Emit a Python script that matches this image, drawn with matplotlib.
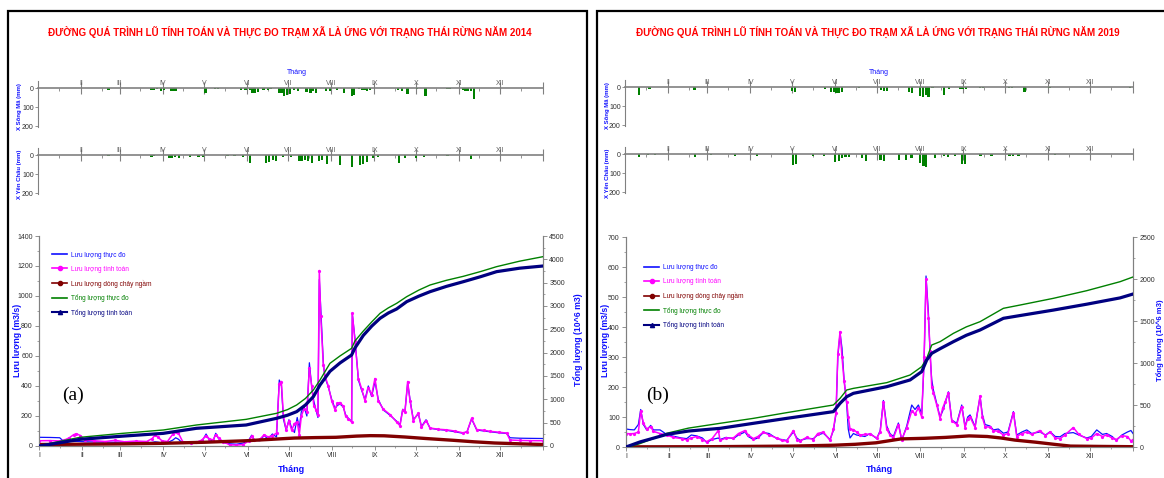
import matplotlib
matplotlib.use('Agg')
import matplotlib.pyplot as plt
from matplotlib.lines import Line2D
from matplotlib.patches import Rectangle

W, H = 1164, 478
FONT = ['Liberation Sans', 'DejaVu Sans']
plt.rcParams['font.family'] = FONT

BLUE = '#1010ff'
MAGENTA = '#ff00ff'
DARKRED = '#800000'
GREEN = '#008000'
NAVY = '#000080'
GRAY = '#808080'

months = [0, 31, 59, 90, 120, 151, 181, 212, 243, 273, 304, 334]
month_labels = ['I', 'II', 'III', 'IV', 'V', 'VI', 'VII', 'VIII', 'IX', 'X', 'XI', 'XII']

legend_labels = ['Lưu lượng thực đo', 'Lưu lượng tính toán', 'Lưu lượng dòng chảy ngầm',
                 'Tổng lượng thực đo', 'Tổng lượng tính toán']

# ---- 2014 rainfall (mm) ----
rain_songma_2014_day = [51, 82, 84, 86, 89, 91, 96, 98, 100, 121, 128, 130, 147, 150, 153, 155, 157, 159,
                        163, 166, 168, 174, 176, 178, 180, 182, 185, 188, 194, 197, 199, 201, 208, 211,
                        216, 221, 227, 228, 232, 234, 236, 238, 240, 260, 263, 267, 274, 280, 296, 298,
                        307, 309, 311, 313, 315]
rain_songma_2014_mm = [8, 8, 10, 6, 15, 12, 15, 14, 16, 26, 5, 4, 10, 8, 12, 25, 28, 22,
                       8, 10, 6, 28, 25, 40, 38, 30, 12, 15, 20, 25, 18, 25, 15, 15,
                       12, 25, 40, 38, 6, 8, 10, 15, 12, 10, 15, 30, 5, 40, 3, 3,
                       8, 15, 18, 15, 60]

rain_yenchau_2014_day = [51, 82, 84, 95, 97, 99, 102, 110, 116, 119, 137, 142, 148, 153, 165, 167, 170,
                         172, 177, 183, 189, 191, 193, 195, 198, 203, 205, 209, 218, 227, 233, 235, 238,
                         242, 246, 261, 265, 273, 279, 296, 313]
rain_yenchau_2014_mm = [3, 8, 6, 15, 18, 12, 15, 10, 10, 12, 5, 5, 10, 42, 40, 35, 25,
                        30, 10, 10, 30, 32, 28, 30, 40, 30, 28, 45, 55, 65, 50, 48, 35,
                        15, 10, 40, 15, 15, 10, 5, 20]

# ---- 2019 rainfall (mm) ----
rain_songma_2019_day = [10, 17.6, 50, 120, 122, 143.5, 148, 150, 152, 154, 156, 168, 184, 186, 188,
                        204, 206, 212, 214, 216, 218, 221, 229, 233, 241, 243, 245, 255, 257, 276, 278,
                        287, 305, 363]
rain_songma_2019_mm = [40, 8, 15, 22, 25, 8, 28, 25, 32, 30, 28, 3, 15, 22, 20,
                       28, 30, 45, 50, 40, 52, 5, 40, 8, 10, 8, 12, 5, 4, 5, 5,
                       25, 3, 5]

rain_yenchau_2019_day = [9.8, 16.3, 21.7, 50.3, 62, 79, 94.7, 120.8, 123, 135, 143, 151, 153.5, 156,
                         158.5, 161, 170.5, 173, 183.5, 186, 196.6, 201.8, 205.8, 212, 214.5, 216.5,
                         222.7, 229, 232, 237, 242.4, 244.5, 255.4, 263.3, 276.3, 279, 282.8, 309]
rain_yenchau_2019_mm = [15, 5, 3, 15, 5, 8, 8, 60, 50, 10, 8, 40, 35, 20,
                        18, 15, 20, 35, 30, 35, 30, 30, 20, 45, 65, 70,
                        20, 12, 15, 10, 55, 50, 8, 8, 10, 8, 12, 5]

# ---- 2014 discharge (m3/s) ----
q_day_2014 = [0, 8, 15, 18, 22, 25, 27, 30, 33, 40, 48, 55, 62, 70, 78, 82, 84, 86, 89, 93, 97, 99,
              101, 104, 110, 114, 118, 121, 123, 126, 128, 130, 133, 138, 143, 148, 152, 154, 156,
              160, 163, 166, 169, 172, 174, 175.5, 177, 179, 181, 183, 185, 187, 188.5, 190, 192,
              194, 195.8, 197.5, 199, 200.6, 202, 203, 204, 205.9, 207, 209.5, 212, 214.4, 216,
              218, 220.4, 222, 224, 226.4, 226.9, 228.8, 231.3, 233.7, 236.1, 238.5, 240.9, 243.3,
              245.7, 249.4, 254.2, 259, 261.4, 263.4, 265, 267, 268.7, 271.1, 274.7, 277, 280.3,
              283.2, 289, 295, 301, 307, 310, 313.3, 317, 322, 326.6, 333, 338.7, 341.1, 348,
              355.6, 365]
q_obs_2014 = [58, 57, 55, 30, 32, 30, 31, 30, 28, 27, 26, 25, 27, 24, 22, 24, 28, 26, 20, 22, 40, 55,
              45, 18, 20, 22, 30, 80, 45, 30, 85, 50, 25, 15, 12, 20, 40, 72, 40,
              35, 70, 45, 80, 60, 440, 410, 180, 105, 175, 120, 90, 190, 120, 230, 260,
              200, 555, 395, 300, 240, 190, 1110, 930, 560, 460, 395, 310, 250, 270,
              280, 260, 210, 185, 165, 880, 720, 440, 370, 310, 400, 330, 430,
              310, 240, 205, 165, 140, 245, 230, 420, 310, 175, 215, 130, 175,
              118, 110, 105, 95, 85, 95, 180, 107, 100, 95, 88, 84, 55, 52,
              51, 50]
q_sim_2014 = [35, 36, 34, 38, 55, 75, 82, 70, 40, 35, 30, 38, 28, 33, 30, 50, 72, 60, 35, 30, 80, 95,
              85, 30, 18, 25, 40, 70, 50, 40, 75, 55, 30, 8, 6, 10, 35, 65, 38,
              45, 75, 60, 70, 85, 415, 430, 200, 110, 165, 105, 150, 160, 75, 200, 250,
              230, 520, 400, 270, 240, 210, 1170, 870, 540, 470, 400, 300, 240, 285,
              290, 265, 200, 180, 160, 885, 700, 450, 380, 300, 390, 340, 450,
              300, 245, 210, 160, 135, 240, 225, 430, 300, 170, 220, 125, 170,
              120, 112, 108, 100, 88, 95, 184, 110, 105, 98, 92, 86, 40, 37,
              36, 35]

base_day_2014 = [0, 30, 60, 90, 120, 150, 175, 185, 200, 215, 230, 240, 250, 265, 280, 300, 315, 330, 350, 365]
base_2014 = [10, 12, 14, 18, 25, 35, 48, 53, 56, 58, 66, 69, 68, 60, 50, 38, 28, 20, 14, 10]

# ---- 2014 cumulative volume (10^6 m3) ----
vol_day_2014 = [0, 10, 29.7, 60, 90, 114, 150, 172, 180, 186.6, 193, 198.7, 203.5, 210.7, 218, 226.4,
                228.8, 234.9, 241, 247, 253, 259, 266.3, 275, 283.2, 295, 307.3, 320, 331.4, 348, 365]
vol_obs_2014 = [0, 70, 186, 270, 343, 450, 571, 700, 780, 879, 1020, 1200, 1414, 1771, 1930, 2093,
                2250, 2464, 2660, 2843, 2960, 3057, 3200, 3340, 3450, 3550, 3636, 3740, 3843, 3960, 4057]
vol_sim_2014 = [0, 45, 143, 210, 271, 379, 450, 593, 660, 736, 880, 1057, 1307, 1600, 1780, 1950,
                2100, 2371, 2570, 2736, 2850, 2936, 3093, 3210, 3307, 3420, 3521, 3630, 3736, 3810, 3857]

# ---- 2019 discharge (m3/s) ----
q_day_2019 = [0, 3, 6, 8.9, 10.6, 12.5, 14.9, 17.8, 19.7, 24.5, 29.3, 34.1, 40, 43.7, 47, 50.9, 55,
              58.1, 62, 66.5, 67.7, 72, 77.3, 81, 85.7, 88, 91.7, 95, 98.9, 103, 108.5, 112, 115.7,
              120.5, 123, 125.3, 130, 134.9, 138, 142.1, 146.9, 149.3, 151.2, 152.5, 154.1, 155.5,
              157, 158.9, 160, 161.3, 163.7, 166, 168.5, 172, 175.7, 180.5, 183, 185.3, 187.7, 190,
              192.5, 196.1, 198.5, 202.1, 205.7, 208.1, 210.5, 212.9, 214.6, 216, 217.7, 219,
              220.1, 221.3, 223.7, 226.1, 228, 229.7, 232.1, 234.5, 238.1, 241.7, 244.1, 246,
              247.7, 251.3, 254.9, 256.5, 258.5, 262, 264.5, 268, 271.7, 275, 278.9, 281.3, 285,
              288.5, 292, 298, 302, 305.3, 309, 312.5, 316, 322, 326, 331.7, 335, 338.9, 343, 346,
              350, 353, 357, 361, 363.5, 365]
q_obs_2019 = [60, 58, 57, 75, 125, 75, 57, 72, 57, 57, 42, 36, 30, 28, 40, 37, 30,
              15, 25, 30, 25, 32, 28, 40, 50, 35, 25, 30, 48, 45, 28, 25, 22,
              50, 30, 22, 28, 28, 40, 46, 25, 55, 110, 300, 380, 330,
              225, 140, 60, 30, 45, 40, 38, 35, 45, 28, 55, 155, 70, 45,
              35, 80, 22, 70, 140, 125, 140, 110, 280, 570, 450, 300,
              225, 190, 145, 100, 120, 146, 184, 90, 79, 140, 68, 100,
              107, 68, 168, 110, 75, 70, 57, 60, 46, 50, 118, 40, 50,
              57, 45, 50, 40, 51, 35, 34, 45, 48, 40, 30, 35, 57, 42, 45,
              35, 22, 40, 50, 55, 45]
q_sim_2019 = [45, 44, 45, 50, 120, 80, 60, 68, 52, 45, 40, 32, 28, 24, 30, 35, 25,
              18, 28, 55, 22, 30, 30, 45, 55, 40, 28, 35, 50, 40, 30, 22, 20,
              55, 25, 20, 32, 25, 45, 50, 22, 60, 115, 310, 385, 300,
              220, 150, 100, 60, 58, 50, 40, 42, 43, 30, 50, 150, 60, 40,
              30, 75, 25, 65, 120, 110, 130, 100, 300, 560, 430, 320,
              200, 180, 140, 95, 130, 150, 180, 88, 75, 135, 65, 95,
              100, 65, 170, 100, 68, 66, 55, 52, 40, 45, 115, 35, 45,
              50, 42, 55, 38, 50, 30, 28, 40, 65, 42, 28, 30, 45, 35, 40,
              30, 25, 38, 35, 20, 25]

base_day_2019 = [0, 60, 120, 150, 165, 180, 198, 215, 230, 247, 260, 270, 280, 295, 310, 320, 340, 365]
base_2019 = [0.5, 1, 3, 6, 9, 14, 27, 29, 32, 37, 35, 30, 23, 16, 8, 3, 2, 1]

# ---- 2019 cumulative volume (10^6 m3) ----
vol_day_2019 = [0, 5, 10, 19.7, 29.3, 45, 67.7, 91.7, 115.7, 149.3, 154.1, 158.9, 163.7, 187.7, 204.5,
                212.9, 216.5, 220.1, 226.1, 235.7, 245, 254.9, 271.7, 283.7, 307.7, 331.7, 355.7, 365]
vol_obs_2019 = [0, 15, 40, 100, 163, 225, 282, 341, 409, 500, 579, 679, 698, 766, 857,
                956, 1056, 1214, 1254, 1353, 1430, 1492, 1651, 1690, 1770, 1861, 1968, 2024]
vol_sim_2019 = [0, 30, 60, 105, 150, 190, 222, 282, 341, 421, 520, 599, 639, 718, 798,
                897, 1036, 1115, 1170, 1254, 1330, 1393, 1532, 1565, 1630, 1700, 1775, 1821]


def fig_rect(l, t, r, b):
    return [l / W, 1 - b / H, (r - l) / W, (b - t) / H]


def fig_xy(x, y):
    return x / W, 1 - y / H


def draw_rain(fig, box, days, mm, ylabel, label_x):
    ax = fig.add_axes(fig_rect(*box))
    ax.bar(days, mm, width=1.6, color=GREEN, align='center', zorder=2)
    ax.set_xlim(0, 365)
    ax.set_ylim(205, -37)
    ax.patch.set_alpha(0)
    ax.spines['right'].set_visible(False)
    ax.spines['bottom'].set_visible(False)
    ax.spines['top'].set_position(('data', 0))
    ax.spines['top'].set_color(GRAY)
    ax.spines['top'].set_linewidth(1.2)
    ax.spines['left'].set_color(GRAY)
    ax.spines['left'].set_linewidth(0.8)
    ax.xaxis.tick_top()
    ax.set_xticks(months[1:] + [365])
    ax.set_xticklabels(month_labels[1:] + [''])
    ax.set_xticks([m + 15 for m in months], minor=True)
    ax.tick_params(axis='x', which='major', direction='inout', length=8, width=0.8,
                   pad=-3, labelsize=5, colors=GRAY, labelcolor='#606060')
    ax.tick_params(axis='x', which='minor', direction='in', length=2.5, width=0.6, colors=GRAY)
    ax.set_yticks([0, 100, 200])
    ax.tick_params(axis='y', direction='out', length=2, width=0.6, pad=1, labelsize=5,
                   colors=GRAY, labelcolor='#303030')
    yc = (box[1] + box[3]) / 2 + 3
    fig.text(*fig_xy(label_x, yc), ylabel, rotation=90, ha='center', va='center',
             color=BLUE, fontsize=4.3, fontweight='bold')
    return ax


def draw_main(fig, box, qday, qobs, qsim, bday, base, vday, vobs, vsim, qmax, qstep, vmax,
              legend_pos):
    ax = fig.add_axes(fig_rect(*box))
    ax.plot(qday, qobs, color=BLUE, lw=0.9, zorder=3)
    ax.plot(qday, qsim, color=MAGENTA, lw=1.1, marker='o', ms=1.3, zorder=4)
    ax.plot(bday, base, color=DARKRED, lw=2.4, zorder=5)
    ax.set_xlim(0, 365)
    ax.set_ylim(0, qmax)
    ax.patch.set_alpha(0)
    ax.spines['top'].set_visible(False)
    for s in ('left', 'right', 'bottom'):
        ax.spines[s].set_color(GRAY)
        ax.spines[s].set_linewidth(0.8)
    ax.set_xticks(months + [365])
    ax.set_xticklabels(month_labels + [''])
    ax.set_xticks([m + 15 for m in months], minor=True)
    ax.set_yticks(range(0, qmax + 1, qstep))
    ax.set_yticks(range(0, qmax + 1, qstep // 2), minor=True)
    ax.tick_params(which='major', direction='out', length=3, width=0.6, labelsize=5,
                   colors=GRAY, labelcolor='#303030', pad=1.5)
    ax.tick_params(which='minor', direction='out', length=1.5, width=0.5, colors=GRAY)

    ax2 = ax.twinx()
    ax2.plot(vday, vobs, color=GREEN, lw=1.0, zorder=3)
    ax2.plot(vday, vsim, color=NAVY, lw=2.3, zorder=4)
    ax2.set_ylim(0, vmax)
    ax2.set_yticks(range(0, vmax + 1, 500))
    ax2.set_yticks(range(0, vmax + 1, 250), minor=True)
    ax2.spines['top'].set_visible(False)
    for s in ('left', 'right', 'bottom'):
        ax2.spines[s].set_color(GRAY)
        ax2.spines[s].set_linewidth(0.8)
    ax2.tick_params(which='major', direction='out', length=3, width=0.6, labelsize=5,
                    colors=GRAY, labelcolor='#303030', pad=1.5)
    ax2.tick_params(which='minor', direction='out', length=1.5, width=0.5, colors=GRAY)

    handles = [Line2D([], [], color=BLUE, lw=1.2),
               Line2D([], [], color=MAGENTA, lw=1.2, marker='o', ms=3),
               Line2D([], [], color=DARKRED, lw=1.2, marker='o', ms=3),
               Line2D([], [], color=GREEN, lw=1.2),
               Line2D([], [], color=NAVY, lw=1.5, marker='^', ms=3)]
    ax2.legend(handles, legend_labels, loc='upper left', bbox_to_anchor=legend_pos,
               frameon=False, fontsize=4.7, labelspacing=1.05, handlelength=2.3,
               handletextpad=0.6, borderpad=0, borderaxespad=0,
               labelcolor=[BLUE, MAGENTA, DARKRED, GREEN, NAVY])
    return ax, ax2


def draw_panel(fig, border, title, title_x, top_x, rain1_box, rain2_box, main_box, rain_lx,
               main_lx, main_rx, right_fs, tag, tag_x, rain1, rain2, main_args):
    l, t, r, b = border
    fig.patches.append(Rectangle(fig_xy(l, b), (r - l) / W, (b - t) / H, fill=False,
                                 edgecolor='black', lw=1.6, transform=fig.transFigure))
    fig.text(*fig_xy(title_x, 32), title, ha='center', va='center', color='#ff0000',
             fontsize=7.0, fontweight='bold')
    fig.text(*fig_xy(top_x, 72), 'Tháng', ha='center', va='center', color=BLUE, fontsize=5)
    draw_rain(fig, rain1_box, rain1[0], rain1[1], 'X Sông Mã (mm)', rain_lx)
    draw_rain(fig, rain2_box, rain2[0], rain2[1], 'X Yên Châu (mm)', rain_lx)
    draw_main(fig, main_box, *main_args)
    fig.text(*fig_xy(main_lx, 340), 'Lưu lượng (m3/s)', rotation=90, ha='center', va='center',
             color=BLUE, fontsize=6.3, fontweight='bold')
    fig.text(*fig_xy(main_rx, 340), 'Tổng lượng (10^6 m3)', rotation=90, ha='center',
             va='center', color=BLUE, fontsize=right_fs, fontweight='bold')
    fig.text(*fig_xy((main_box[0] + main_box[2]) / 2, 469), 'Tháng', ha='center', va='center',
             color=BLUE, fontsize=6.5, fontweight='bold')
    fig.text(*fig_xy(tag_x, 395), tag, ha='center', va='center', fontsize=14,
             family=['Liberation Serif', 'DejaVu Serif'], color='black')


def main():
    fig = plt.figure(figsize=(W / 100, H / 100), dpi=100)

    draw_panel(fig, (8, 11, 587, 482),
               'ĐƯỜNG QUÁ TRÌNH LŨ TÍNH TOÁN VÀ THỰC ĐO TRẠM XÃ LÀ ỨNG VỚI TRẠNG THÁI RỪNG NĂM 2014',
               290, 297, (38, 81, 543, 127), (38, 148, 543, 194), (39, 236, 543, 446),
               20, 18, 578, 6.3, '(a)', 73,
               (rain_songma_2014_day, rain_songma_2014_mm),
               (rain_yenchau_2014_day, rain_yenchau_2014_mm),
               (q_day_2014, q_obs_2014, q_sim_2014, base_day_2014, base_2014,
                vol_day_2014, vol_obs_2014, vol_sim_2014, 1400, 200, 4500, (0.026, 0.925)))

    draw_panel(fig, (597, 11, 1175, 482),
               'ĐƯỜNG QUÁ TRÌNH LŨ TÍNH TOÁN VÀ THỰC ĐO TRẠM XÃ LÀ ỨNG VỚI TRẠNG THÁI RỪNG NĂM 2019',
               878, 879, (625, 80, 1133, 126), (625, 147, 1133, 193), (626, 237, 1133, 447),
               608, 605, 1160, 5.6, '(b)', 658,
               (rain_songma_2019_day, rain_songma_2019_mm),
               (rain_yenchau_2019_day, rain_yenchau_2019_mm),
               (q_day_2019, q_obs_2019, q_sim_2019, base_day_2019, base_2019,
                vol_day_2019, vol_obs_2019, vol_sim_2019, 700, 100, 2500, (0.036, 0.87)))

    fig.savefig('out.png', dpi=100)
    plt.close(fig)


if __name__ == '__main__':
    main()
